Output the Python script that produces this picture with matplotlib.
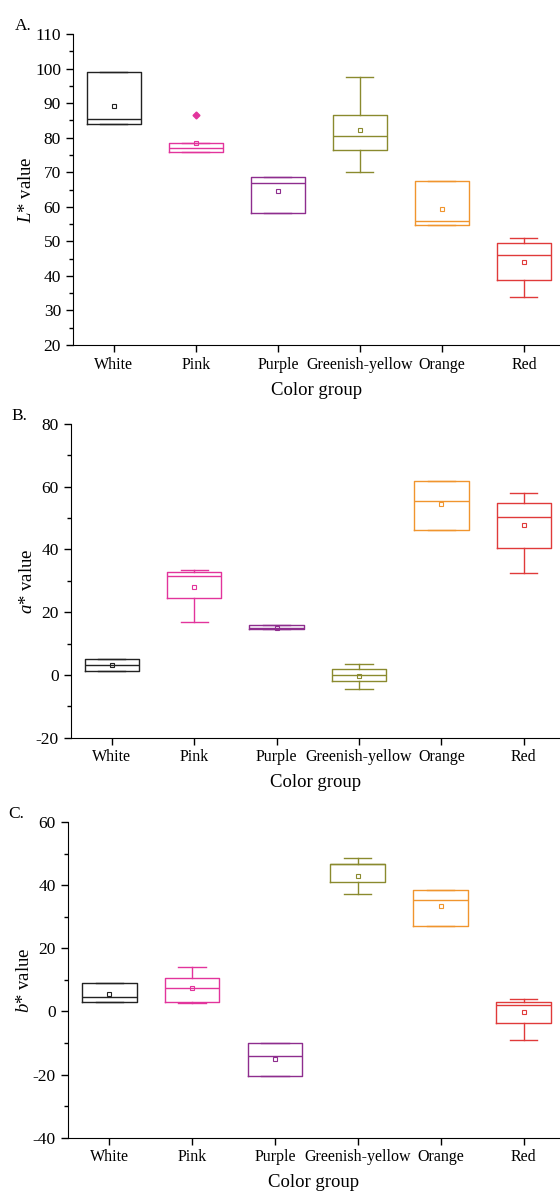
import matplotlib
matplotlib.use("Agg")
import matplotlib.pyplot as plt
from matplotlib.ticker import MultipleLocator

plt.rcParams['font.family'] = ['Liberation Serif', 'DejaVu Serif']
plt.rcParams['mathtext.fontset'] = 'custom'
plt.rcParams['mathtext.it'] = 'Liberation Serif:italic'
plt.rcParams['mathtext.rm'] = 'Liberation Serif'
plt.rcParams['axes.unicode_minus'] = False

groups = ["White", "Pink", "Purple", "Greenish-yellow", "Orange", "Red"]
colors = ["#222222", "#E2349C", "#8E2D8E", "#8A8A2E", "#F0952E", "#E03A3A"]

# panel A: L*
L_whislo = [84.0, 75.8, 58.3, 70.0, 54.8, 33.8]
L_q1 = [84.0, 75.8, 58.3, 76.5, 54.8, 38.8]
L_med = [85.5, 77.0, 67.0, 80.5, 56.0, 46.0]
L_q3 = [99.0, 78.5, 68.5, 86.5, 67.5, 49.6]
L_whishi = [99.0, 78.5, 68.5, 97.6, 67.5, 51.0]
L_mean = [89.3, 78.5, 64.5, 82.3, 59.3, 44.0]
L_fliers = [[], [86.5], [], [], [], []]

# panel B: a*
a_whislo = [1.3, 16.8, 14.5, -4.6, 46.3, 32.4]
a_q1 = [1.3, 24.4, 14.5, -1.8, 46.3, 40.6]
a_med = [3.0, 31.6, 15.0, 0.1, 55.6, 50.5]
a_q3 = [5.1, 32.8, 15.8, 2.0, 61.9, 54.8]
a_whishi = [5.1, 33.6, 15.8, 3.4, 61.9, 57.9]
a_mean = [3.0, 27.9, 15.0, -0.5, 54.5, 47.8]
a_fliers = [[], [], [], [], [], []]

# panel C: b*
b_whislo = [3.0, 2.8, -20.5, 37.3, 27.1, -9.2]
b_q1 = [3.0, 3.0, -20.5, 40.9, 27.1, -3.8]
b_med = [4.7, 7.5, -14.1, 46.8, 35.2, 2.1]
b_q3 = [9.0, 10.5, -10.0, 46.8, 38.4, 3.1]
b_whishi = [9.0, 13.9, -10.0, 48.6, 38.4, 3.8]
b_mean = [5.5, 7.5, -15.0, 42.9, 33.4, -0.3]
b_fliers = [[], [], [], [], [], []]

panels = [
    ("A.", r"$L$* value", (20, 110), 10, 5,
     L_whislo, L_q1, L_med, L_q3, L_whishi, L_mean, L_fliers,
     [0.130, 0.7108, 0.870, 0.2607]),
    ("B.", r"$a$* value", (-20, 80), 20, 10,
     a_whislo, a_q1, a_med, a_q3, a_whishi, a_mean, a_fliers,
     [0.126, 0.3817, 0.874, 0.2629]),
    ("C.", r"$b$* value", (-40, 60), 20, 10,
     b_whislo, b_q1, b_med, b_q3, b_whishi, b_mean, b_fliers,
     [0.121, 0.0464, 0.879, 0.2646]),
]

fig = plt.figure(figsize=(5.6, 11.93), dpi=100)

for (tag, ylab, ylim, major, minor, wlo, q1, med, q3, whi, mean, fl, rect) in panels:
    ax = fig.add_axes(rect)
    for i in range(len(groups)):
        st = [dict(whislo=wlo[i], q1=q1[i], med=med[i], q3=q3[i],
                   whishi=whi[i], mean=mean[i], fliers=fl[i], label=groups[i])]
        c = colors[i]
        ax.bxp(st, positions=[i + 1], widths=0.66, showmeans=True,
               showfliers=True,
               boxprops=dict(color=c, linewidth=1.0),
               medianprops=dict(color=c, linewidth=1.0),
               whiskerprops=dict(color=c, linewidth=1.0),
               capprops=dict(color=c, linewidth=1.0),
               capwidths=0.33,
               meanprops=dict(marker="s", markersize=3.2, markerfacecolor="none",
                              markeredgecolor=c, markeredgewidth=0.8),
               flierprops=dict(marker="D", markersize=3.5, markerfacecolor=c,
                               markeredgecolor=c))
    ax.set_xlim(0.5, 6.44)
    ax.set_ylim(*ylim)
    ax.set_xticks(range(1, len(groups) + 1))
    ax.set_xticklabels(groups)
    ax.yaxis.set_major_locator(MultipleLocator(major))
    ax.yaxis.set_minor_locator(MultipleLocator(minor))
    ax.tick_params(axis="both", which="major", direction="out", length=5, width=1)
    ax.tick_params(axis="x", which="major", labelsize=11.5)
    ax.tick_params(axis="y", which="major", labelsize=12.5)
    ax.tick_params(axis="y", which="minor", direction="out", length=3, width=1)
    ax.spines["top"].set_visible(False)
    ax.spines["right"].set_visible(False)
    ax.set_xlabel("Color group", fontsize=13.5, labelpad=6.5)
    ax.set_ylabel(ylab, fontsize=13.5, labelpad=0)
    ax.text(-0.12, 1.0, tag, transform=ax.transAxes, fontsize=12.5,
            ha="left", va="bottom")

fig.savefig("out.png", dpi=100)
